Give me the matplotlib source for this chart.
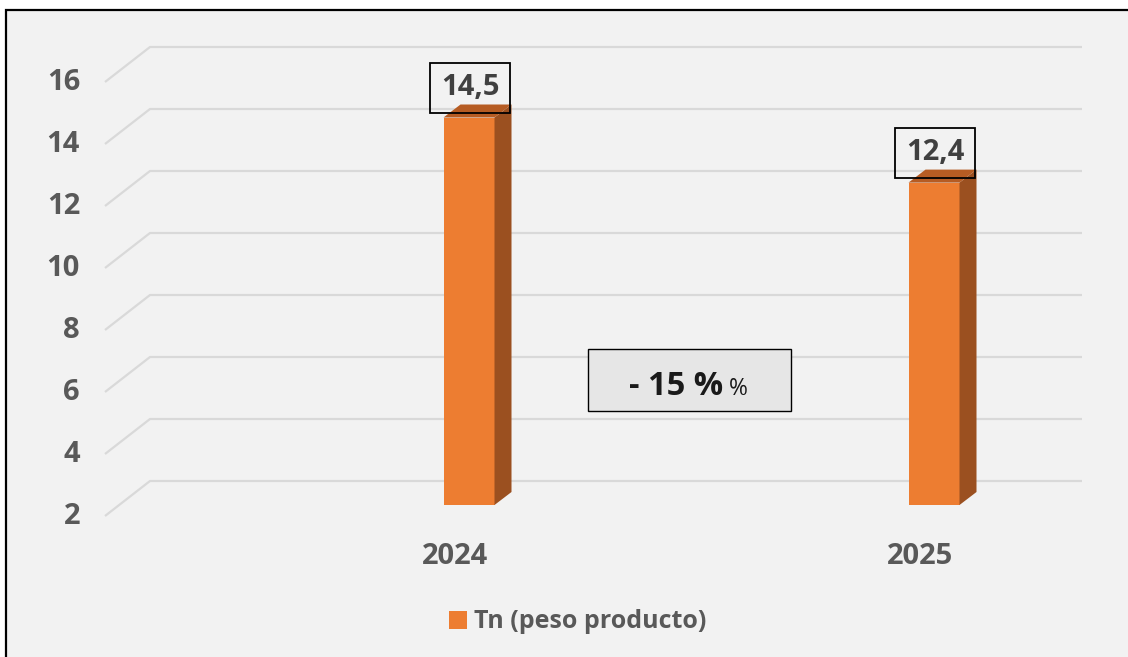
import numpy as np
import matplotlib
matplotlib.use("Agg")
import matplotlib.pyplot as plt
import matplotlib.transforms as mtransforms
from matplotlib.patches import Polygon, Rectangle

# --- data ---
years = ["2024", "2025"]
tonnes = [14.5, 12.4]
value_labels = ["14,5", "12,4"]
y_ticks = [2, 4, 6, 8, 10, 12, 14, 16]
series_name = "Tn (peso producto)"
change_main = "- 15 %"
change_tail = "%"

W, H, DPI = 1128, 657, 100
BG = "#f2f2f2"
ORANGE = "#ed7d31"
SIDE = "#9b5020"
TOP = "#b65c23"
GRID = "#d9d9d9"
TXT = "#595959"
BASE = 2

plt.rcParams["font.family"] = ["Open Sans", "DejaVu Sans"]

fig = plt.figure(figsize=(W / DPI, H / DPI), dpi=DPI)
fig.patch.set_facecolor("white")
# chart frame, only left and top edges fall inside the picture
fig.patches.append(Rectangle((6 / W, -0.2), 1.2, (H - 10) / H + 0.2,
                             transform=fig.transFigure, facecolor=BG,
                             edgecolor="black", lw=1.6, zorder=-5))

# axes placed so that bar front plane maps 2 -> y=505px, 31 px per unit,
# category 0 centred at x=469px, 465 px per category
x0_px, px_cat = 469, 465
y2_px, px_unit = 505, 31
xlim = (-1.0, 1.4)
ylim = (0.0, 18.0)
left = (x0_px + xlim[0] * px_cat) / W
width = (xlim[1] - xlim[0]) * px_cat / W
top_px = y2_px - (ylim[1] - BASE) * px_unit
bot_px = y2_px + (BASE - ylim[0]) * px_unit
ax = fig.add_axes([left, (H - bot_px) / H, width, (bot_px - top_px) / H])
ax.set_xlim(*xlim)
ax.set_ylim(*ylim)
ax.axis("off")

ux = 1 / px_cat   # data units per pixel
uy = 1 / px_unit


def px_to_x(p):
    return (p - x0_px) * ux


def shifted(dx, dy):
    return ax.transData + mtransforms.ScaledTranslation(dx / DPI, dy / DPI, fig.dpi_scale_trans)


# back wall gridlines with the perspective stub on the left
wall_dy, front_dy = 24, 11
for v in y_ticks:
    xs = [px_to_x(105), px_to_x(150), px_to_x(1082)]
    ys = [v - front_dy * uy, v + wall_dy * uy, v + wall_dy * uy]
    ax.plot(xs, ys, color=GRID, lw=1.6, zorder=1, clip_on=False, solid_capstyle="butt")
    ax.text(px_to_x(80), v, str(v), transform=shifted(0, -front_dy - 1),
            ha="right", va="center", fontsize=21, fontweight="bold", color=TXT)

# bars with a simple extruded depth
x = np.arange(len(years))
bw = 51 * ux
ddx, ddy = 17 * ux, 13 * uy
heights = np.array(tonnes) - BASE
ax.bar(x, heights, bottom=BASE, width=bw, color=ORANGE, zorder=3, label=series_name)
for xi, v in zip(x, tonnes):
    r = xi + bw / 2
    l = xi - bw / 2
    ax.add_patch(Polygon([(r, BASE), (r, v), (r + ddx, v + ddy), (r + ddx, BASE + ddy)],
                         closed=True, facecolor=SIDE, edgecolor="none", zorder=3))
    ax.add_patch(Polygon([(l, v), (r, v), (r + ddx, v + ddy), (l + ddx, v + ddy)],
                         closed=True, facecolor=TOP, edgecolor="none", zorder=3))

for xi, v, lab in zip(x, tonnes, value_labels):
    ax.text(xi, v, lab, transform=shifted(1, 30), ha="center", va="center",
            fontsize=21, fontweight="bold", color="#404040", zorder=5,
            bbox=dict(boxstyle="square,pad=0.36", facecolor="none",
                      edgecolor="black", lw=1.3))

for xi, yr in zip(x, years):
    ax.text(xi, BASE, yr, transform=shifted(-14, -51), ha="center", va="center",
            fontsize=21, fontweight="bold", color=TXT)

# change annotation box
fig.patches.append(Rectangle((588 / W, (H - 411) / H), 203 / W, 62 / H,
                             transform=fig.transFigure, facecolor="#e6e6e6",
                             edgecolor="black", lw=1.0, zorder=4))
fig.text(723 / W, (H - 395) / H, change_main, ha="right", va="baseline",
         fontsize=23.5, fontweight="bold", color="#1a1a1a", zorder=5)
fig.text(729 / W, (H - 395) / H, change_tail, ha="left", va="baseline",
         fontsize=16.5, color="#1a1a1a", zorder=5)

fig.legend(loc="center", bbox_to_anchor=(578 / W, (H - 622) / H), frameon=False,
           prop={"weight": "bold", "size": 18},
           handlelength=0.7, handleheight=0.7, handletextpad=0.3,
           labelcolor=TXT)

fig.savefig("out.png", dpi=DPI, facecolor=fig.get_facecolor())
